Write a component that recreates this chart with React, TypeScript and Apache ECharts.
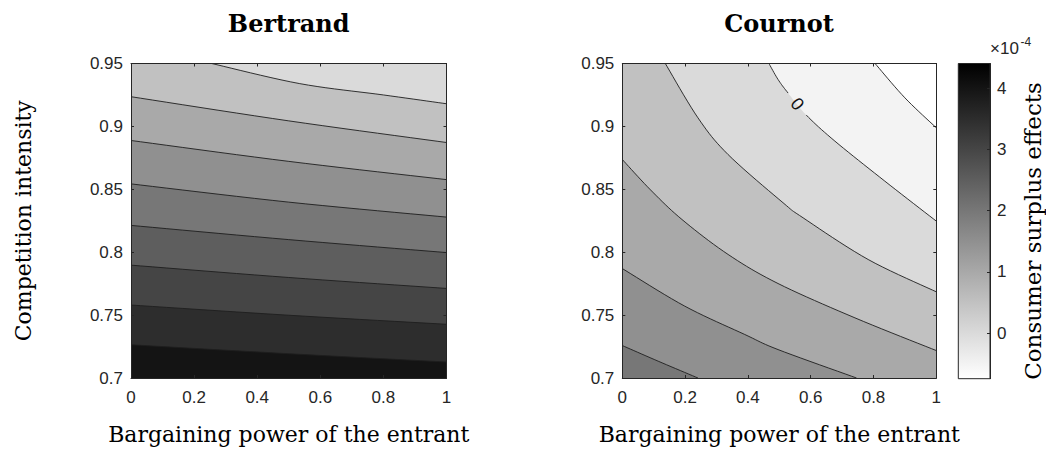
import React, { useEffect, useRef } from "react";
import * as echarts from "echarts";

// ---------- axis extents & ticks ----------
const xMin = 0;
const xMax = 1;
const yMin = 0.7;
const yMax = 0.95;
const xTicks = [0, 0.2, 0.4, 0.6, 0.8, 1];
const yTicks = [0.7, 0.75, 0.8, 0.85, 0.9, 0.95];

// ---------- colour bar (units of 1e-4) ----------
const cbarMin = -0.745;
const cbarMax = 4.4;
const cbarTicks = [0, 1, 2, 3, 4];

// ---------- Bertrand contour levels and lines ([bargaining power, competition intensity]) ----------
const bertrandBaseLevel = 0;
const bertrandLevels = [0.5, 1, 1.5, 2, 2.5, 3, 3.5, 4];
const bertrandLines = [
  [[0.256, 0.95], [0.535, 0.934], [0.8, 0.925], [1, 0.918]],
  [[0, 0.9236], [0.5, 0.9044], [1, 0.8872]],
  [[0, 0.8888], [0.5, 0.8722], [1, 0.8577]],
  [[0, 0.8543], [0.5, 0.8398], [1, 0.8279]],
  [[0, 0.8213], [0.5, 0.81], [1, 0.7997]],
  [[0, 0.7897], [0.5, 0.7799], [1, 0.7712]],
  [[0, 0.758], [0.5, 0.7499], [1, 0.7427]],
  [[0, 0.7264], [0.5, 0.7193], [1, 0.7127]],
];

// ---------- Cournot contour levels and lines ----------
const cournotBaseLevel = -1;
const cournotLevels = [-0.5, 0, 0.5, 1, 1.5, 2];
const cournotLines = [
  [[0.805, 0.95], [0.9, 0.9227], [1, 0.8989]],
  [[0.467, 0.95], [0.496, 0.9373], [0.528, 0.9265], [0.586, 0.909], [0.677, 0.8883], [0.836, 0.8565], [1, 0.8247]],
  [[0.137, 0.95], [0.241, 0.9068], [0.337, 0.8776], [0.512, 0.8393], [0.576, 0.8273], [0.783, 0.7942], [1, 0.7685]],
  [[0, 0.8737], [0.09, 0.8495], [0.19, 0.826], [0.337, 0.7982], [0.496, 0.7751], [0.741, 0.7478], [1, 0.7218]],
  [[0, 0.787], [0.199, 0.7571], [0.39, 0.7346], [0.496, 0.7226], [0.746, 0.7]],
  [[0, 0.7258], [0.114, 0.7134], [0.241, 0.7]],
];
// labelled contour: [line index, point index after which the line is broken for its label]
const cournotLabelled = [[1, 2]];

const titles = ["Bertrand", "Cournot"];
const xLabel = "Bargaining power of the entrant";
const yLabel = "Competition intensity";
const cbarLabel = "Consumer surplus effects";

// ---------- styling ----------
const SANS = "'Liberation Sans', Arial, Helvetica, sans-serif";
const SERIF = "'DejaVu Serif', 'Liberation Serif', serif";
const AXIS = "#262626";
const LINE = "#1e1e1e";
const TICK_FONT = 17;

const CORNERS = [
  [xMin, yMin],
  [xMin, yMax],
  [xMax, yMax],
  [xMax, yMin],
];

function grayColor(v: number) {
  const f = (v - cbarMin) / (cbarMax - cbarMin);
  const g = Math.round(255 * (1 - Math.min(1, Math.max(0, f))));
  return `rgb(${g},${g},${g})`;
}

function perimT(p: number[]) {
  const e = 1e-6;
  const [x, y] = p;
  if (Math.abs(x - xMin) < e) return (y - yMin) / (yMax - yMin);
  if (Math.abs(y - yMax) < e) return 1 + (x - xMin) / (xMax - xMin);
  if (Math.abs(x - xMax) < e) return 2 + (yMax - y) / (yMax - yMin);
  return 3 + (xMax - x) / (xMax - xMin);
}

// Catmull-Rom smoothing of a drawn pixel polyline between point indices i0..i1 (drawing only)
function smoothPix(px: number[][], i0: number, i1: number, steps = 10) {
  const out: number[][] = [];
  const n = px.length;
  const at = (k: number) => px[Math.max(0, Math.min(n - 1, k))];
  for (let i = i0; i < i1; i++) {
    const p0 = at(i - 1), p1 = at(i), p2 = at(i + 1), p3 = at(i + 2);
    for (let s = 0; s < steps; s++) {
      const t = s / steps, t2 = t * t, t3 = t2 * t;
      const f = (a: number, b: number, c: number, d: number) =>
        0.5 * (2 * b + (-a + c) * t + (2 * a - 5 * b + 4 * c - d) * t2 + (-a + 3 * b - 3 * c + d) * t3);
      out.push([f(p0[0], p1[0], p2[0], p3[0]), f(p0[1], p1[1], p2[1], p3[1])]);
    }
  }
  out.push(px[i1]);
  return out;
}

// region with values >= the level of the line (high side contains the lower-left corner)
function regionPixels(line: number[][], api: any) {
  const tS = perimT(line[0]);
  const tE = perimT(line[line.length - 1]);
  const px = line.map((p) => api.coord(p));
  const pts = smoothPix(px, 0, px.length - 1);
  for (let k = Math.floor(tE) + 1; k < tS + 4; k++) pts.push(api.coord(CORNERS[k % 4]));
  return pts;
}

function fillSeries(axisIndex: number, baseLevel: number, levels: number[], lines: number[][][]) {
  const data = [[0, baseLevel], ...levels.map((lv, i) => [i + 1, lv])];
  return {
    type: "custom",
    xAxisIndex: axisIndex,
    yAxisIndex: axisIndex,
    clip: true,
    z: 2,
    silent: true,
    data,
    renderItem: (params: any, api: any) => {
      const idx = params.dataIndex;
      const pts = idx === 0 ? CORNERS.map((p) => api.coord(p)) : regionPixels(lines[idx - 1], api);
      const lv = idx === 0 ? baseLevel : levels[idx - 1];
      return {
        type: "polygon",
        shape: { points: pts },
        style: { fill: grayColor(lv), stroke: null, lineWidth: 0 },
      };
    },
  };
}

function lineSeries(axisIndex: number, levels: number[], lines: number[][][], labelled: number[][]) {
  return {
    type: "custom",
    xAxisIndex: axisIndex,
    yAxisIndex: axisIndex,
    clip: true,
    z: 3,
    silent: true,
    data: levels.map((lv, i) => [i, lv]),
    renderItem: (params: any, api: any) => {
      const idx = params.dataIndex;
      const line = lines[idx];
      const px = line.map((p) => api.coord(p));
      const lab = labelled.find((l) => l[0] === idx);
      const segs = lab
        ? [smoothPix(px, 0, lab[1]), smoothPix(px, lab[1] + 1, px.length - 1)]
        : [smoothPix(px, 0, px.length - 1)];
      const children: any[] = segs.map((seg) => ({
        type: "polyline",
        shape: { points: seg },
        style: { stroke: LINE, lineWidth: 0.9, fill: null },
      }));
      if (lab) {
        const a = px[lab[1]];
        const b = px[lab[1] + 1];
        const ang = Math.atan2(b[1] - a[1], b[0] - a[0]);
        children.push({
          type: "text",
          x: (a[0] + b[0]) / 2,
          y: (a[1] + b[1]) / 2,
          rotation: -ang,
          style: {
            text: String(levels[idx]),
            fontSize: 18,
            fontFamily: SANS,
            fill: "#111",
            align: "center",
            verticalAlign: "middle",
          },
        });
      }
      return { type: "group", children };
    },
  };
}

function makeAxes(gi: number, withYName: boolean) {
  const lineStyle = { color: AXIS, width: 1 };
  const common = { type: "value", gridIndex: gi, z: 10, splitLine: { show: false } };
  const xBottom = {
    ...common,
    position: "bottom",
    min: xMin,
    max: xMax,
    axisLine: { show: true, onZero: false, lineStyle },
    axisTick: { show: true, inside: true, length: 3, customValues: xTicks, lineStyle },
    axisLabel: { show: true, customValues: xTicks, margin: 11, fontSize: TICK_FONT, fontFamily: SANS, color: AXIS },
    name: xLabel,
    nameLocation: "middle",
    nameGap: 56,
    nameTextStyle: { fontFamily: SERIF, fontSize: 22, color: "#000", align: "center", verticalAlign: "middle" },
  };
  const xTop = {
    ...common,
    position: "top",
    min: xMin,
    max: xMax,
    axisLine: { show: true, onZero: false, lineStyle },
    axisTick: { show: true, inside: true, length: 3, customValues: xTicks, lineStyle },
    axisLabel: { show: false },
  };
  const yLeft: any = {
    ...common,
    position: "left",
    min: yMin,
    max: yMax,
    axisLine: { show: true, onZero: false, lineStyle },
    axisTick: { show: true, inside: true, length: 3, customValues: yTicks, lineStyle },
    axisLabel: { show: true, customValues: yTicks, margin: 8, fontSize: TICK_FONT, fontFamily: SANS, color: AXIS },
  };
  if (withYName) {
    Object.assign(yLeft, {
      name: yLabel,
      nameLocation: "middle",
      nameGap: 108,
      nameRotate: 90,
      nameTextStyle: { fontFamily: SERIF, fontSize: 22, color: "#000", align: "center", verticalAlign: "middle" },
    });
  }
  const yRight = {
    ...common,
    position: "right",
    min: yMin,
    max: yMax,
    axisLine: { show: true, onZero: false, lineStyle },
    axisTick: { show: true, inside: true, length: 3, customValues: yTicks, lineStyle },
    axisLabel: { show: false },
  };
  return { x: [xBottom, xTop], y: [yLeft, yRight] };
}

function buildOption() {
  const a0 = makeAxes(0, true);
  const a1 = makeAxes(1, false);
  const plotTop = 63.5;
  const plotH = 315.2;
  return {
    animation: false,
    backgroundColor: "#ffffff",
    textStyle: { fontFamily: SANS },
    grid: [
      { left: 131, top: plotTop, width: 315.5, height: plotH, show: false },
      { left: 622.3, top: plotTop, width: 314, height: plotH, show: false },
      { left: 958.3, top: plotTop, width: 31.7, height: plotH, show: false },
    ],
    xAxis: [
      ...a0.x,
      ...a1.x,
      { type: "value", gridIndex: 2, min: 0, max: 1, show: false },
    ],
    yAxis: [
      ...a0.y,
      ...a1.y,
      {
        type: "value",
        gridIndex: 2,
        position: "right",
        min: cbarMin,
        max: cbarMax,
        z: 10,
        splitLine: { show: false },
        axisLine: { show: true, onZero: false, lineStyle: { color: AXIS, width: 1 } },
        axisTick: { show: true, inside: true, length: 3, customValues: cbarTicks, lineStyle: { color: AXIS } },
        axisLabel: { show: true, customValues: cbarTicks, margin: 7, fontSize: TICK_FONT, fontFamily: SANS, color: AXIS },
      },
    ],
    series: [
      fillSeries(0, bertrandBaseLevel, bertrandLevels, bertrandLines),
      lineSeries(0, bertrandLevels, bertrandLines, []),
      fillSeries(2, cournotBaseLevel, cournotLevels, cournotLines),
      lineSeries(2, cournotLevels, cournotLines, cournotLabelled),
      {
        type: "custom",
        xAxisIndex: 4,
        yAxisIndex: 4,
        z: 2,
        silent: true,
        data: [[0, cbarMin]],
        renderItem: (_p: any, api: any) => {
          const p1 = api.coord([0, cbarMax]);
          const p2 = api.coord([1, cbarMin]);
          return {
            type: "rect",
            shape: { x: p1[0], y: p1[1], width: p2[0] - p1[0], height: p2[1] - p1[1] },
            style: {
              fill: new echarts.graphic.LinearGradient(0, 0, 0, 1, [
                { offset: 0, color: grayColor(cbarMax) },
                { offset: 1, color: grayColor(cbarMin) },
              ]),
              stroke: AXIS,
              lineWidth: 1,
            },
          };
        },
      },
    ],
    graphic: [
      {
        type: "text",
        x: 288.7,
        y: 23.5,
        style: { text: titles[0], fontFamily: SERIF, fontWeight: "bold", fontSize: 24, fill: "#000", align: "center", verticalAlign: "middle" },
      },
      {
        type: "text",
        x: 779,
        y: 23.5,
        style: { text: titles[1], fontFamily: SERIF, fontWeight: "bold", fontSize: 24, fill: "#000", align: "center", verticalAlign: "middle" },
      },
      {
        type: "text",
        x: 990,
        y: 48.5,
        style: { text: "×10", fontFamily: SANS, fontSize: 17, fill: AXIS, align: "left", verticalAlign: "middle" },
      },
      {
        type: "text",
        x: 1020.5,
        y: 41.5,
        style: { text: "-4", fontFamily: SANS, fontSize: 12, fill: AXIS, align: "left", verticalAlign: "middle" },
      },
      {
        type: "text",
        x: 1033,
        y: 231,
        rotation: Math.PI / 2,
        style: { text: cbarLabel, fontFamily: SERIF, fontSize: 23, fill: "#000", align: "center", verticalAlign: "middle" },
      },
    ],
  };
}

export default function App() {
  const ref = useRef<HTMLDivElement>(null);
  useEffect(() => {
    if (!ref.current) return;
    const chart = echarts.init(ref.current, null, { renderer: "svg" });
    chart.setOption(buildOption() as any);
    return () => chart.dispose();
  }, []);
  return (
    <div
      ref={ref}
      style={{ position: "fixed", left: 0, top: 0, width: 1046, height: 450, background: "#ffffff" }}
    />
  );
}
